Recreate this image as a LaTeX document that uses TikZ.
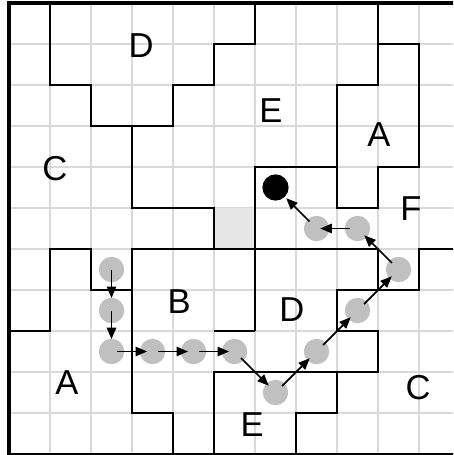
\documentclass[tikz,border=0pt]{standalone}
\usepackage{fontspec}
\setmainfont{Liberation Sans}
\usetikzlibrary{arrows.meta}
\definecolor{gridc}{HTML}{D9D9D9}
\definecolor{dotc}{HTML}{C0C0C0}
\definecolor{cellc}{HTML}{E6E6E6}
\begin{document}
\begin{tikzpicture}[x=1cm,y=1cm,
  gridline/.style={draw=gridc, line width=1.3pt},
  wall/.style={draw=black, line width=1pt, line join=miter},
  border/.style={draw=black, line width=2.1pt, line join=miter},
  waypt/.style={circle, fill=dotc, minimum size=0.62cm, inner sep=0pt},
  goalpt/.style={circle, fill=black, minimum size=0.64cm, inner sep=0pt},
  mv/.style={-{Triangle[length=8pt,width=6.5pt]}, line width=1.2pt},
  lab/.style={font=\fontsize{24}{28}\selectfont, inner sep=0pt}
]
\useasboundingbox (-0.2195,-0.024) rectangle (10.829,11.073);
\clip (-0.2195,-0.024) rectangle (10.829,11.073);
% grid
\foreach \k in {1,...,10} {
  \draw[gridline] (\k,0) -- (\k,11);
  \draw[gridline] (0,\k) -- (11.5,\k);
}
% shaded cell
\fill[cellc] (5,5) rectangle (6,6);
% region walls
\draw[wall] (1,11) -- (1,9) -- (2,9) -- (2,8) -- (4,8) -- (4,9) -- (5,9) -- (5,10) -- (6,10) -- (6,11);
\draw[wall] (3,8) -- (3,6) -- (5,6) -- (5,5);
\draw[wall] (8,7) -- (6,7) -- (6,3);
\draw[wall] (9,11) -- (9,10) -- (10,10) -- (10,7) -- (9,7) -- (9,6) -- (8,6) -- (8,9) -- (9,9) -- (9,10);
\draw[wall] (0,3) -- (1,3) -- (1,5) -- (2,5) -- (2,4) -- (3,4) -- (3,5) -- (9,5) -- (9,4) -- (10,4) -- (10,5) -- (11.5,5);
\draw[wall] (9,4) -- (8,4) -- (8,3) -- (9,3) -- (9,2) -- (5,2) -- (5,0);
\draw[wall] (3,5) -- (3,1) -- (4,1) -- (4,0);
\draw[wall] (5,3) -- (6,3);
\draw[wall] (8,2) -- (8,1) -- (7,1) -- (7,0);
% outer border
\draw[border] (11.5,11) -- (0,11) -- (0,0) -- (11.5,0);
% path points
\node[waypt] (p1) at (2.5,4.5) {};
\node[waypt] (p2) at (2.5,3.5) {};
\node[waypt] (p3) at (2.5,2.5) {};
\node[waypt] (p4) at (3.5,2.5) {};
\node[waypt] (p5) at (4.5,2.5) {};
\node[waypt] (p6) at (5.5,2.5) {};
\node[waypt] (p7) at (6.5,1.5) {};
\node[waypt] (p8) at (7.5,2.5) {};
\node[waypt] (p9) at (8.5,3.5) {};
\node[waypt] (p10) at (9.5,4.5) {};
\node[waypt] (p11) at (8.5,5.5) {};
\node[waypt] (p12) at (7.5,5.5) {};
\node[goalpt] (goal) at (6.5,6.5) {};
% moves
\draw[mv, shorten <=0pt, shorten >=8.6pt] (p1.center) -- (p2.center);
\draw[mv, shorten <=0pt, shorten >=8.6pt] (p2.center) -- (p3.center);
\draw[mv, shorten <=3.9pt, shorten >=3.8pt] (p3.center) -- (p4.center);
\draw[mv, shorten <=3.9pt, shorten >=3.8pt] (p4.center) -- (p5.center);
\draw[mv, shorten <=3.9pt, shorten >=3.8pt] (p5.center) -- (p6.center);
\draw[mv, shorten <=6.4pt, shorten >=6.6pt] (p6.center) -- (p7.center);
\draw[mv, shorten <=6.4pt, shorten >=6.6pt] (p7.center) -- (p8.center);
\draw[mv, shorten <=6.4pt, shorten >=6.6pt] (p8.center) -- (p9.center);
\draw[mv, shorten <=6.4pt, shorten >=6.6pt] (p9.center) -- (p10.center);
\draw[mv, shorten <=6.4pt, shorten >=6.6pt] (p10.center) -- (p11.center);
\draw[mv, shorten <=5.5pt, shorten >=2.6pt] (p11.center) -- (p12.center);
\draw[mv, shorten <=7pt, shorten >=10.5pt] (p12.center) -- (goal.center);
% labels
\node[lab] (lD1) at (3.22,9.95) {D};
\node[lab] (lC1) at (1.12,6.95) {C};
\node[lab] (lE1) at (6.39,8.37) {E};
\node[lab] (lA1) at (9.02,7.80) {A};
\node[lab] (lF) at (9.80,5.98) {F};
\node[lab] (lB) at (4.15,3.71) {B};
\node[lab] (lA2) at (1.41,1.73) {A};
\node[lab] (lD2) at (6.90,3.51) {D};
\node[lab] (lC2) at (9.98,1.61) {C};
\node[lab] (lE2) at (5.93,0.71) {E};
\end{tikzpicture}
\end{document}
